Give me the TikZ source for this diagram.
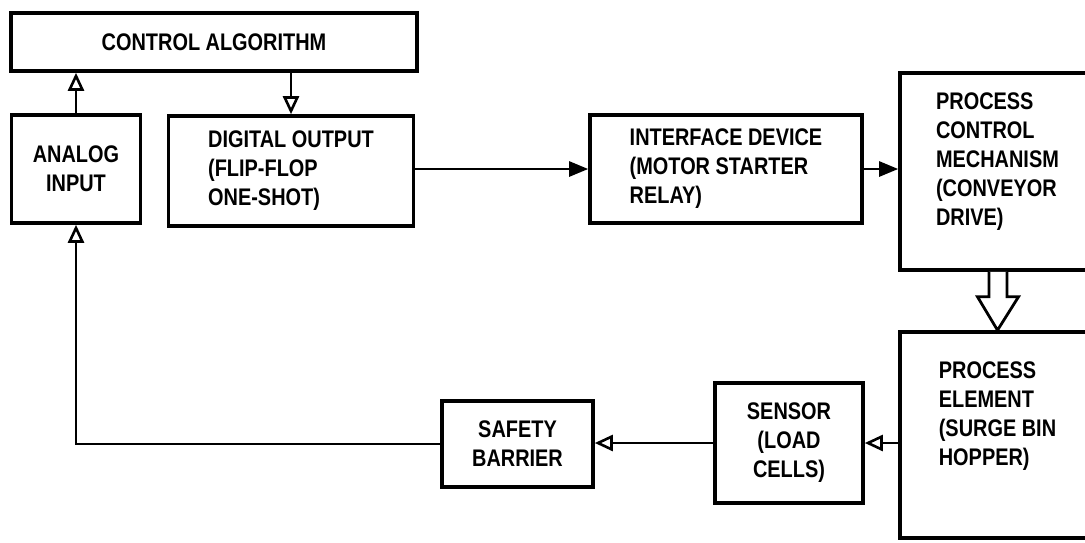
\documentclass[tikz,border=0pt]{standalone}
\usepackage{fontspec}
\setmainfont{Liberation Sans}[FakeStretch=0.83]
\usetikzlibrary{arrows.meta}

\tikzset{
  blk/.style={draw, line width=3.6pt, inner sep=0pt, align=left, font=\fontsize{24}{29}\selectfont\bfseries},
  wire/.style={line width=2.6pt},
  openhead/.style={wire, -{Triangle[open, length=18pt, width=16pt]}},
  fullhead/.style={wire, -{Triangle[length=19pt, width=15pt]}},
  hollowarrow/.style={line width=2.8pt, fill=white, line join=miter},
}

\begin{document}
\begin{tikzpicture}[x=1pt, y=-1pt]
\useasboundingbox (0,0) rectangle (1085,542);

% upper row
\node[blk, align=center, minimum width=406pt, minimum height=58pt] (ctrl) at (214,42) {CONTROL ALGORITHM};
\node[blk, align=center, minimum width=129pt, minimum height=108pt] (analog) at (76,169) {ANALOG\\INPUT};
\node[blk, minimum width=245pt, minimum height=110pt] (digital) at (291,171) {DIGITAL OUTPUT\\(FLIP-FLOP\\ONE-SHOT)};
\node[blk, minimum width=272pt, minimum height=108pt] (iface) at (726,169) {INTERFACE DEVICE\\(MOTOR STARTER\\RELAY)};
\node[blk, minimum width=195pt, minimum height=197pt] (pcm) at (997.5,171.5) {PROCESS\\CONTROL\\MECHANISM\\(CONVEYOR\\DRIVE)\\[-5pt]~};

% lower row
\node[blk, minimum width=195pt, minimum height=206pt] (pe) at (997.5,435) {PROCESS\\ELEMENT\\(SURGE BIN\\HOPPER)\\[13pt]~};
\node[blk, align=center, minimum width=148pt, minimum height=120pt] (sensor) at (789,443) {SENSOR\\(LOAD\\CELLS)};
\node[blk, align=center, minimum width=151pt, minimum height=86pt] (barrier) at (517.5,444) {SAFETY\\BARRIER};

% connectors
\draw[openhead] (analog.north) -- (analog.north |- ctrl.south);
\draw[openhead] (digital.north |- ctrl.south) -- (digital.north);
\draw[fullhead] (iface.west -| digital.east) -- (iface.west);
\draw[fullhead] (iface.east) -- (iface.east -| pcm.west);
\draw[hollowarrow, shift={(pcm.south)}] (-8.5,0) -- (-8.5,25) -- (-20,25) -- (pe.north) -- (21,25) -- (9.5,25) -- (9.5,0);
\draw[openhead] (sensor.east -| pe.west) -- (sensor.east);
\draw[openhead] (sensor.west) -- (sensor.west -| barrier.east);
\draw[openhead] (barrier.west) -| (analog.south);
\end{tikzpicture}
\end{document}
